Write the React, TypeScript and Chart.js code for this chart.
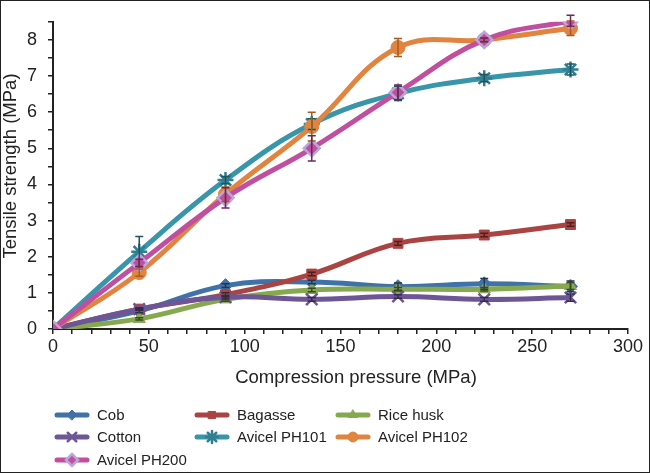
import React, { useEffect, useRef } from "react";
import { Chart, registerables } from "chart.js";
import { drawPoint } from "chart.js/helpers";

Chart.register(...registerables);

const pressures = [0, 45, 90, 135, 180, 225, 270];

const seriesNames = ["Cob", "Bagasse", "Rice husk", "Cotton", "Avicel PH101", "Avicel PH102", "Avicel PH200"];

const cob = [0, 0.5, 1.2, 1.3, 1.17, 1.25, 1.18];
const bagasse = [0, 0.55, 0.95, 1.52, 2.37, 2.6, 2.89];
const riceHusk = [0, 0.28, 0.82, 1.08, 1.1, 1.1, 1.19];
const cotton = [0, 0.55, 0.88, 0.82, 0.9, 0.82, 0.87];
const ph101 = [0, 2.14, 4.12, 5.67, 6.52, 6.94, 7.18];
const ph102 = [0, 1.56, 3.73, 5.6, 7.79, 8.0, 8.32];
const ph200 = [0, 1.83, 3.63, 5.0, 6.55, 8.0, 8.53];

const cobErr = [0, 0.05, 0.05, 0.05, 0.1, 0.15, 0.15];
const bagasseErr = [0, 0.03, 0.05, 0.05, 0.05, 0.05, 0.05];
const riceHuskErr = [0, 0.03, 0.05, 0.05, 0.05, 0.05, 0.1];
const cottonErr = [0, 0.03, 0.05, 0.05, 0.05, 0.05, 0.1];
const ph101Err = [0, 0.42, 0.1, 0.15, 0.2, 0.1, 0.15];
const ph102Err = [0, 0.1, 0.2, 0.4, 0.25, 0.05, 0.2];
const ph200Err = [0, 0.1, 0.28, 0.35, 0.2, 0.05, 0.15];

const xTitle = "Compression pressure (MPa)";
const yTitle = "Tensile strength (MPa)";

const FONT = "'Liberation Sans', Arial, sans-serif";

type Style = { color: string; point: string; radius: number; fill: string; border: string; bw: number; err: string };
const styles: Style[] = [
  { color: "#3f72a8", point: "rectRot", radius: 7, fill: "#3f72a8", border: "#3f72a8", bw: 1, err: "#23364d" },
  { color: "#a94442", point: "rect", radius: 7, fill: "#a94442", border: "#a94442", bw: 1, err: "#4d2020" },
  { color: "#86a84e", point: "triangle", radius: 7, fill: "#86a84e", border: "#86a84e", bw: 1, err: "#3a4a20" },
  { color: "#6d5596", point: "crossRot", radius: 8, fill: "#6d5596", border: "#6d5596", bw: 2.5, err: "#33284a" },
  { color: "#3996aa", point: "star", radius: 8, fill: "#3996aa", border: "#2f7f90", bw: 2.5, err: "#1d5461" },
  { color: "#e0843f", point: "circle", radius: 7, fill: "#e0843f", border: "#e0843f", bw: 1, err: "#a85a20" },
  { color: "#c04fa0", point: "rectRot", radius: 8, fill: "#c04fa0", border: "#b9a7dc", bw: 2.5, err: "#6b2a55" },
];

const values = [cob, bagasse, riceHusk, cotton, ph101, ph102, ph200];
const errors = [cobErr, bagasseErr, riceHuskErr, cottonErr, ph101Err, ph102Err, ph200Err];

const errorBarPlugin = {
  id: "errorBars",
  afterDatasetsDraw(chart: any) {
    const ctx = chart.ctx;
    const xs = chart.scales.x;
    const ys = chart.scales.y;
    ctx.save();
    for (let d = 0; d < values.length; d++) {
      ctx.strokeStyle = styles[d].err;
      ctx.lineWidth = 1.5;
      for (let i = 0; i < pressures.length; i++) {
        const e = errors[d][i];
        if (!e) continue;
        const px = xs.getPixelForValue(pressures[i]);
        const y1 = ys.getPixelForValue(values[d][i] + e);
        const y2 = ys.getPixelForValue(Math.max(0, values[d][i] - e));
        ctx.beginPath();
        ctx.moveTo(px, y1);
        ctx.lineTo(px, y2);
        ctx.moveTo(px - 4, y1);
        ctx.lineTo(px + 4, y1);
        ctx.moveTo(px - 4, y2);
        ctx.lineTo(px + 4, y2);
        ctx.stroke();
      }
    }
    ctx.restore();
  },
};

const decorPlugin = {
  id: "decor",
  afterDraw(chart: any) {
    const ctx = chart.ctx;
    ctx.save();
    ctx.fillStyle = "#222";
    ctx.textAlign = "center";
    ctx.textBaseline = "middle";
    ctx.font = `18.5px ${FONT}`;
    ctx.fillText(xTitle, 356, 378);
    ctx.save();
    ctx.translate(11, 166);
    ctx.rotate(-Math.PI / 2);
    ctx.font = `18.5px ${FONT}`;
    ctx.fillText(yTitle, 0, 0);
    ctx.restore();

    const colX = [55, 195, 336];
    const rowY = [415, 437, 460];
    ctx.textAlign = "left";
    ctx.font = `15px ${FONT}`;
    for (let d = 0; d < seriesNames.length; d++) {
      const c = d % 3;
      const r = Math.floor(d / 3);
      const x0 = colX[c];
      const y0 = rowY[r];
      const s = styles[d];
      ctx.strokeStyle = s.color;
      ctx.lineWidth = 5;
      ctx.lineCap = "round";
      ctx.beginPath();
      ctx.moveTo(x0 + 2, y0);
      ctx.lineTo(x0 + 32, y0);
      ctx.stroke();
      ctx.fillStyle = s.fill;
      ctx.strokeStyle = s.border;
      ctx.lineWidth = s.bw;
      drawPoint(ctx, { pointStyle: s.point as any, radius: s.radius - 2, rotation: 0, borderWidth: s.bw }, x0 + 17, y0);
      ctx.fillStyle = "#222";
      ctx.fillText(seriesNames[d], x0 + 42, y0 + 1);
    }
    ctx.restore();
  },
};

export default function App() {
  const ref = useRef<HTMLCanvasElement | null>(null);
  useEffect(() => {
    document.body.style.margin = "0";
    const canvas = ref.current!;
    const chart = new Chart(canvas, {
      type: "line",
      data: {
        datasets: seriesNames.map((name, d) => ({
          label: name,
          data: pressures.map((p, i) => ({ x: p, y: values[d][i] })),
          borderColor: styles[d].color,
          backgroundColor: styles[d].fill,
          borderWidth: 5,
          tension: 0.4,
          cubicInterpolationMode: "default" as const,
          pointStyle: styles[d].point as any,
          pointRadius: styles[d].radius,
          pointBackgroundColor: styles[d].fill,
          pointBorderColor: styles[d].border,
          pointBorderWidth: styles[d].bw,
          order: seriesNames.length - d,
          fill: false,
        })),
      },
      options: {
        animation: false,
        responsive: false,
        maintainAspectRatio: false,
        events: [],
        layout: { padding: { top: 8, right: 22, left: 0, bottom: 0 } },
        plugins: {
          legend: { display: false },
          tooltip: { enabled: false },
          title: { display: false },
        },
        scales: {
          x: {
            type: "linear",
            min: 0,
            max: 300,
            grid: { display: true, drawOnChartArea: false, drawTicks: true, tickLength: 5, color: "#222", lineWidth: 1.5 },
            border: { display: true, color: "#222", width: 2 },
            ticks: {
              stepSize: 10,
              autoSkip: false,
              maxRotation: 0,
              padding: 2,
              color: "#222",
              font: { family: FONT, size: 18 },
              callback: (v: any) => (Number(v) % 50 === 0 ? String(v) : ""),
            },
            afterFit: (s: any) => {
              s.height = 144;
            },
          },
          y: {
            type: "linear",
            min: 0,
            max: 8.5,
            grid: { display: true, drawOnChartArea: false, drawTicks: true, tickLength: 5, color: "#222", lineWidth: 1.5 },
            border: { display: true, color: "#222", width: 2 },
            ticks: {
              stepSize: 0.5,
              autoSkip: false,
              padding: 11,
              color: "#222",
              font: { family: FONT, size: 18 },
              callback: (v: any) => (Number.isInteger(Number(v)) ? String(v) : ""),
            },
            afterFit: (s: any) => {
              s.width = 53;
            },
          },
        },
      },
      plugins: [errorBarPlugin, decorPlugin],
    });
    return () => chart.destroy();
  }, []);
  return (
    <div style={{ position: "absolute", left: 0, top: 0, width: 650, height: 473, background: "#fff" }}>
      <canvas ref={ref} width={650} height={473} style={{ display: "block", width: 650, height: 473 }} />
      <div
        style={{
          position: "absolute",
          left: 0,
          top: 0,
          width: 650,
          height: 473,
          border: "1px solid #222",
          boxSizing: "border-box",
          pointerEvents: "none",
        }}
      />
    </div>
  );
}
